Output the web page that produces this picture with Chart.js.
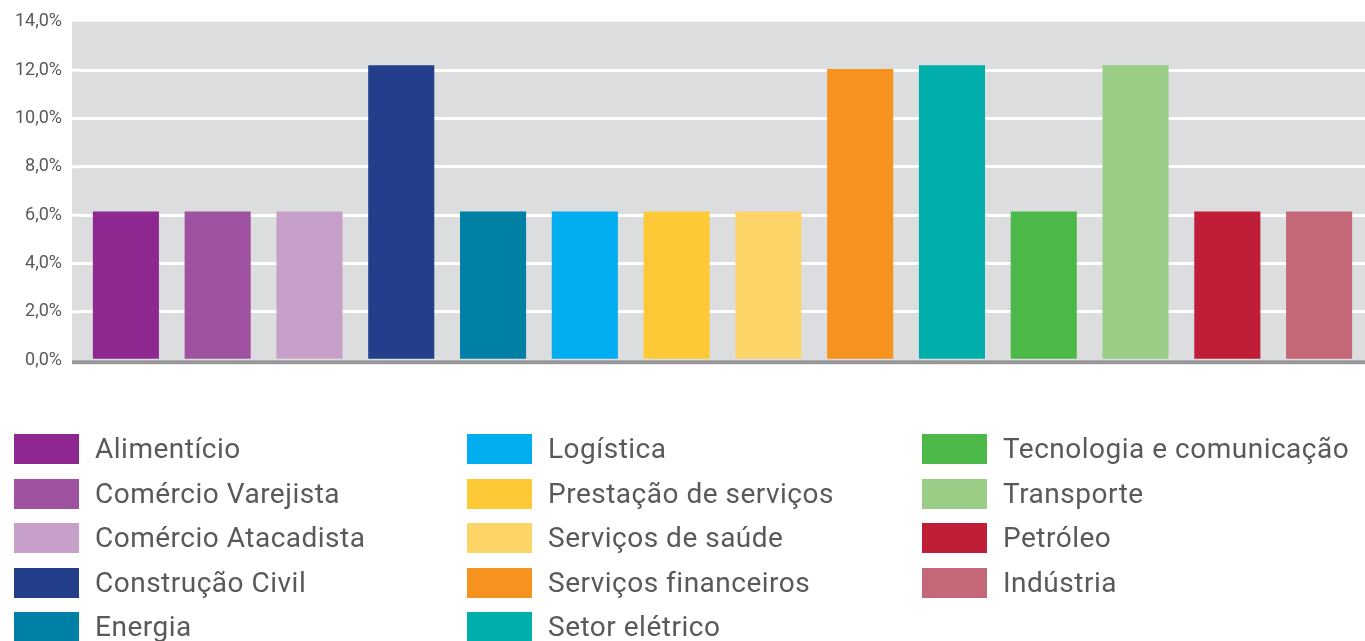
<!DOCTYPE html>
<html>
<head>
<meta charset="utf-8">
<script src="https://cdn.jsdelivr.net/npm/chart.js@4"></script>
<style>
  html, body { margin: 0; padding: 0; background: #ffffff; }
  body { width: 1365px; height: 641px; position: relative; overflow: hidden; }
  #wrap { position: absolute; left: 0; top: -7px; width: 1365px; height: 396px; }
  #legend { position: absolute; left: 0; top: 0; width: 1365px; height: 641px; pointer-events: none; }
  .item { position: absolute; height: 30px; display: flex; align-items: center; }
  .box { width: 65px; height: 30px; flex: none; }
  .lbl { margin-left: 16px; font-family: Roboto, sans-serif; font-size: 28px; color: #58595b; letter-spacing: 0.5px; white-space: nowrap; line-height: 30px; }
</style>
</head>
<body>
<div id="wrap"><canvas id="c" width="1365" height="396"></canvas></div>
<div id="legend"></div>
<script>
const categories = [
  'Alimentício', 'Comércio Varejista', 'Comércio Atacadista', 'Construção Civil', 'Energia',
  'Logística', 'Prestação de serviços', 'Serviços de saúde', 'Serviços financeiros', 'Setor elétrico',
  'Tecnologia e comunicação', 'Transporte', 'Petróleo', 'Indústria'
];
const values = [6.15, 6.15, 6.15, 12.2, 6.15, 6.15, 6.15, 6.15, 12.05, 12.2, 6.15, 12.2, 6.15, 6.15];
const colors = [
  '#8e278f', '#9f52a0', '#c6a0c9', '#233e8b', '#0080a4',
  '#00aeef', '#fec936', '#fdd468', '#f6921e', '#00aeac',
  '#4cb848', '#9ace87', '#c01d39', '#c46777'
];
const yTicks = [0, 2, 4, 6, 8, 10, 12, 14];

const bgPlugin = {
  id: 'bg',
  beforeDraw(chart) {
    const a = chart.chartArea, ctx = chart.ctx;
    ctx.save();
    ctx.fillStyle = '#dcdddf';
    ctx.fillRect(a.left - 8, a.top, a.right - a.left + 8, a.bottom - a.top);
    ctx.restore();
  },
  beforeDatasetsDraw(chart) {
    const a = chart.chartArea, ctx = chart.ctx, y = chart.scales.y;
    ctx.save();
    ctx.strokeStyle = '#ffffff';
    ctx.lineWidth = 3;
    yTicks.forEach(t => {
      if (t === 0 || t === 14) return;
      const py = y.getPixelForValue(t);
      ctx.beginPath(); ctx.moveTo(a.left - 8, py); ctx.lineTo(a.left, py); ctx.stroke();
    });
    ctx.restore();
  },
  afterDatasetsDraw(chart) {
    const a = chart.chartArea, ctx = chart.ctx;
    ctx.save();
    ctx.fillStyle = '#98989b';
    ctx.fillRect(a.left - 8, a.bottom, a.right - a.left + 8, 4);
    ctx.restore();
  }
};

new Chart(document.getElementById('c'), {
  type: 'bar',
  data: {
    labels: categories,
    datasets: [{ data: values, backgroundColor: colors, borderWidth: 0, barPercentage: 0.72, categoryPercentage: 1 }]
  },
  options: {
    responsive: false,
    animation: false,
    layout: { padding: { top: 14, bottom: 12, left: 0, right: 0 } },
    plugins: { legend: { display: false }, tooltip: { enabled: false } },
    scales: {
      x: { display: false },
      y: {
        min: 0, max: 14,
        afterFit(s) { s.width = 80; },
        afterBuildTicks(s) { s.ticks = yTicks.map(v => ({ value: v })); },
        ticks: {
          padding: 18,
          color: '#58595b',
          font: { family: 'Roboto, sans-serif', size: 18 },
          callback: v => v.toFixed(1).replace('.', ',') + '%'
        },
        grid: {
          color: ctx => (ctx.tick && (ctx.tick.value === 0 || ctx.tick.value === 14)) ? 'rgba(0,0,0,0)' : '#ffffff',
          lineWidth: 3,
          drawTicks: false
        },
        border: { display: false }
      }
    }
  },
  plugins: [bgPlugin]
});

const colX = [14, 467, 922];
const rowY0 = 434, rowStep = 44.5, perCol = 5;
const leg = document.getElementById('legend');
categories.forEach((name, i) => {
  const col = Math.floor(i / perCol), row = i % perCol;
  const it = document.createElement('div');
  it.className = 'item';
  it.style.left = colX[col] + 'px';
  it.style.top = (rowY0 + row * rowStep) + 'px';
  const b = document.createElement('div');
  b.className = 'box'; b.style.background = colors[i];
  const t = document.createElement('span');
  t.className = 'lbl'; t.textContent = name;
  it.appendChild(b); it.appendChild(t);
  leg.appendChild(it);
});
</script>
</body>
</html>
